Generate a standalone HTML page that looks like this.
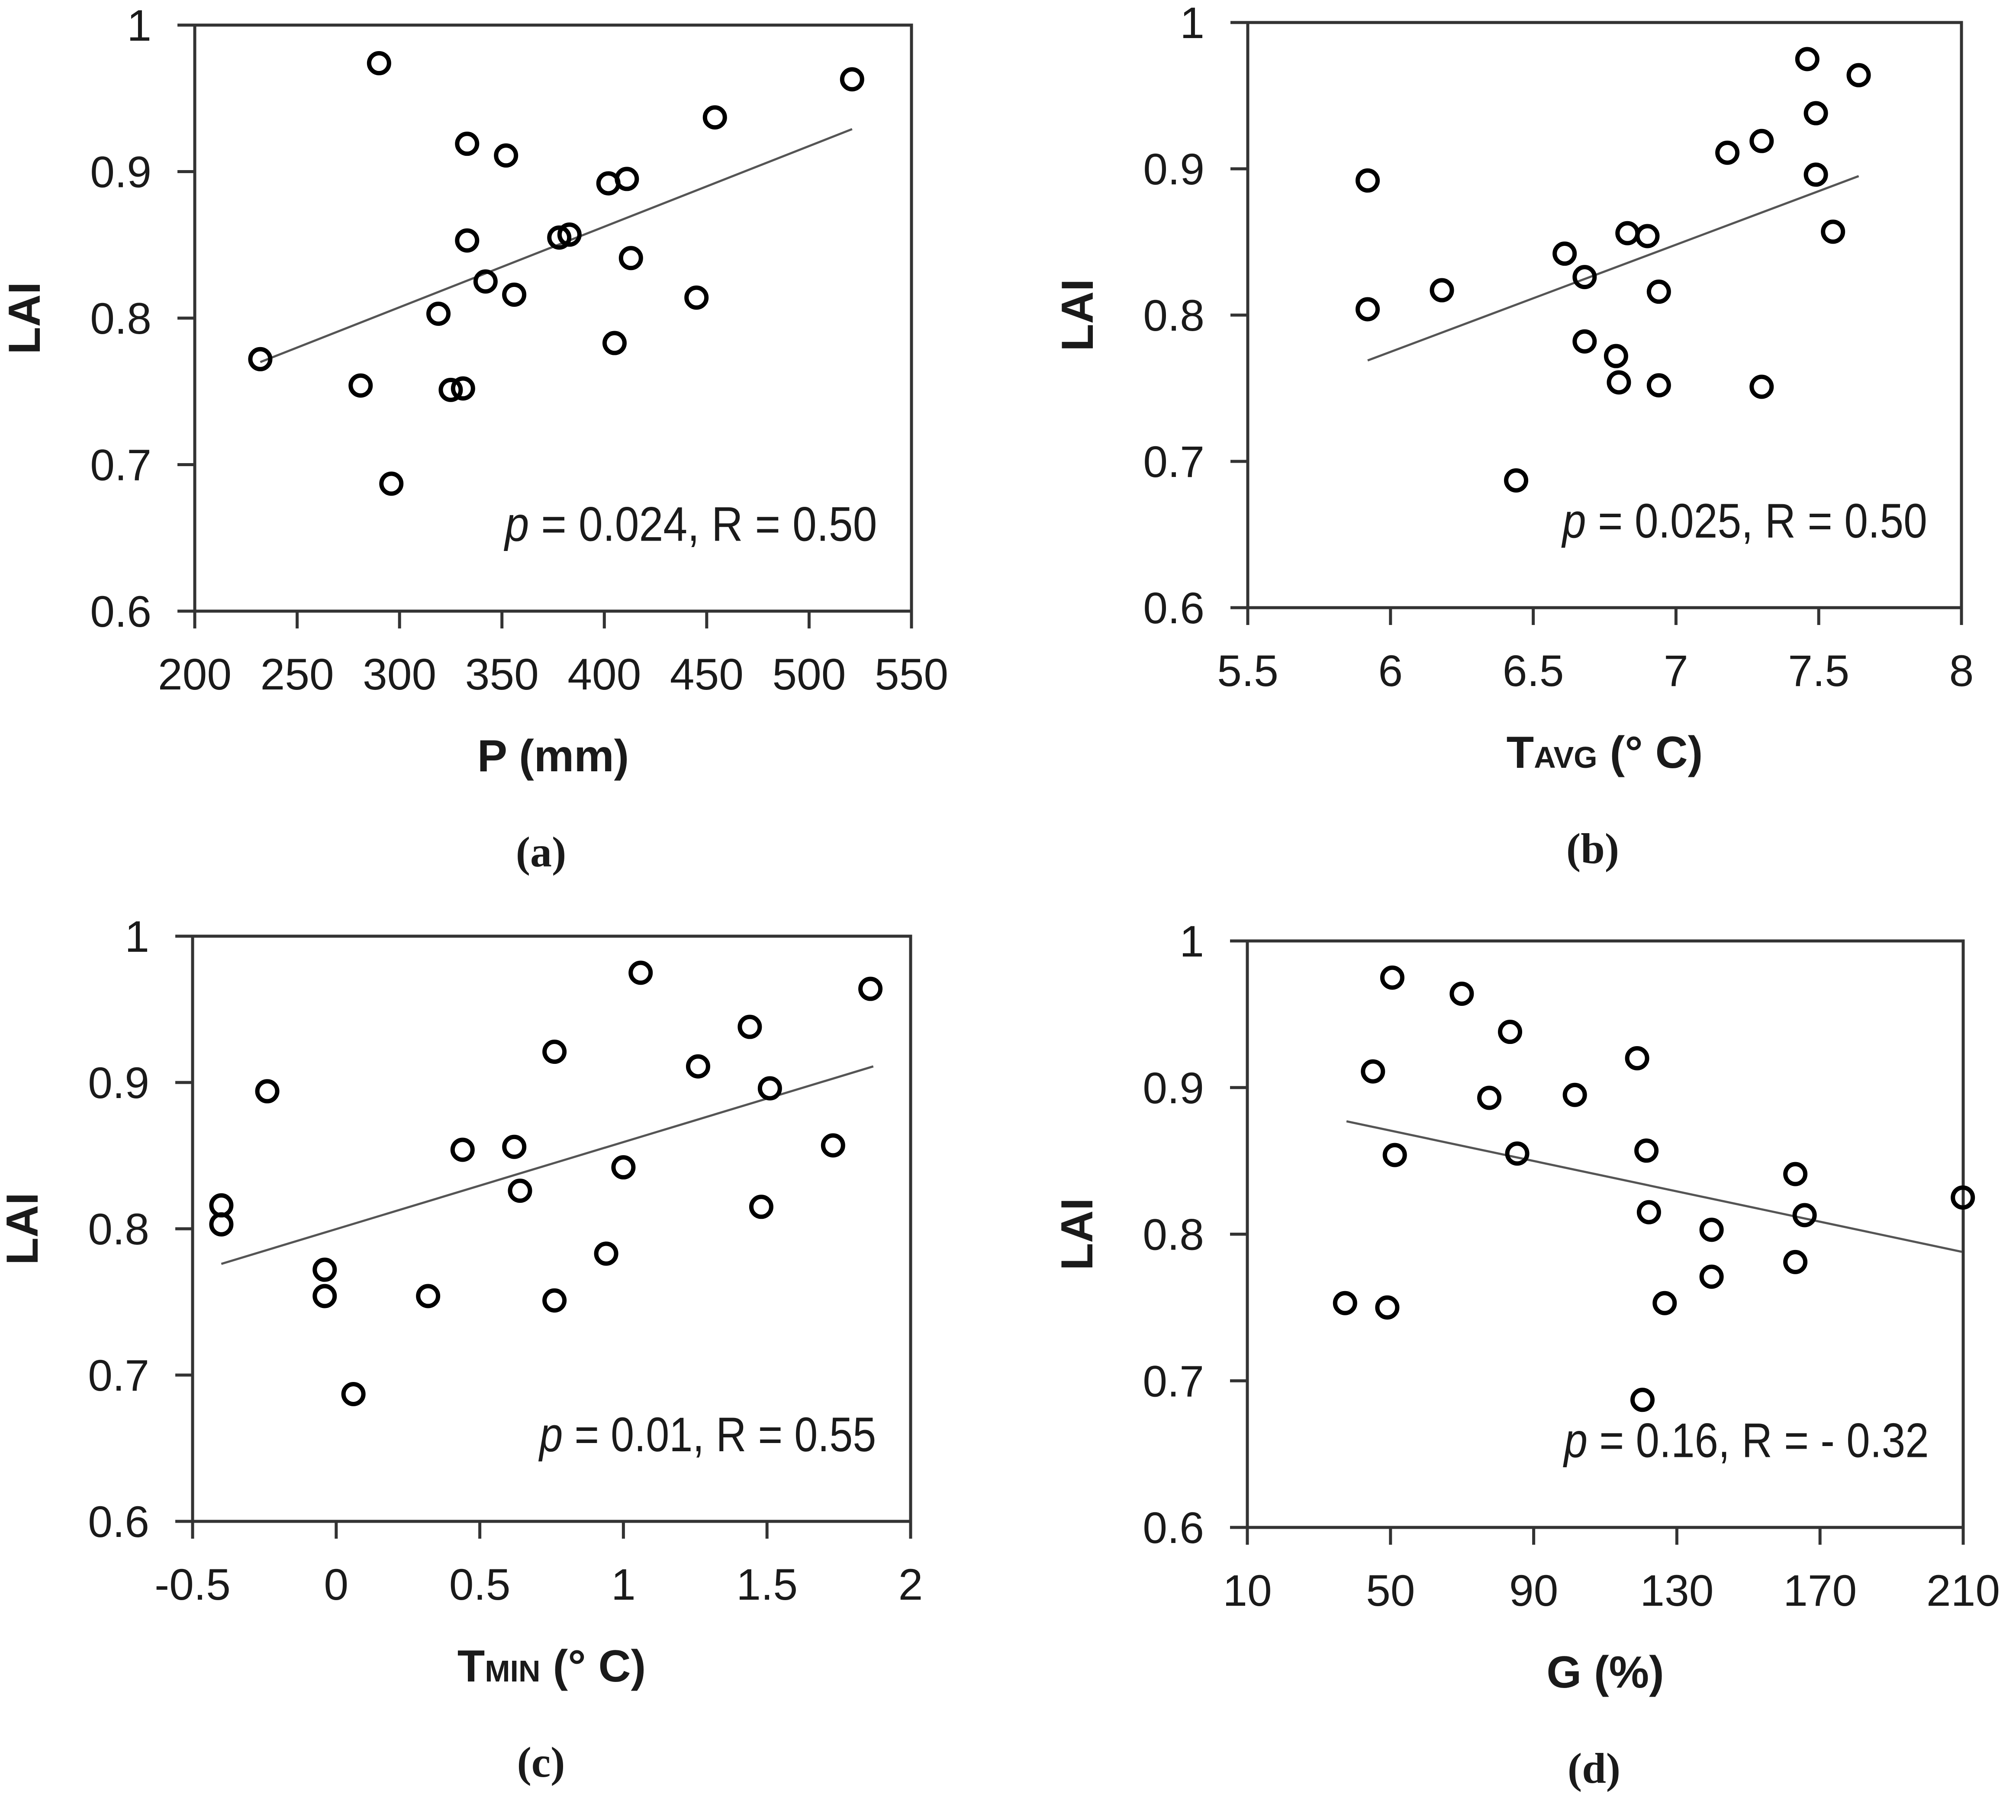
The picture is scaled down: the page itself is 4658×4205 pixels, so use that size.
<!DOCTYPE html>
<html><head><meta charset="utf-8">
<style>
html,body{margin:0;padding:0;background:#fff;}
svg{display:block;}
text{font-family:"Liberation Sans",sans-serif;fill:#1a1a1a;}
</style></head>
<body>
<svg id="fig" xmlns="http://www.w3.org/2000/svg" width="4658" height="4205" viewBox="0 0 4658 4205"></svg>
<script>
// ---- Panel (a): LAI vs P (mm)
const aX = [232,281,290,296,319,325,331,333,333,342,352,356,378,383,402,405,411,413,445,454,521];
const aY = [0.772,0.754,0.974,0.687,0.803,0.751,0.752,0.919,0.853,0.825,0.911,0.816,0.855,0.857,0.892,0.783,0.895,0.841,0.814,0.937,0.963];
const aLineX = [232,521];
const aLineY = [0.770,0.929];
const aTicks = ["200","250","300","350","400","450","500","550"];
const aTickVals = [200,250,300,350,400,450,500,550];
// ---- Panel (b): LAI vs TAVG
const bX = [7.46,7.64,7.49,7.30,7.18,5.92,7.49,7.55,6.83,6.90,6.61,6.68,6.18,6.94,5.92,6.68,6.79,6.80,6.94,7.30,6.44];
const bY = [0.975,0.964,0.938,0.919,0.911,0.892,0.896,0.857,0.856,0.854,0.842,0.826,0.817,0.816,0.804,0.782,0.772,0.754,0.752,0.751,0.687];
const bLineX = [5.92,7.64];
const bLineY = [0.769,0.895];
const bTicks = ["5.5","6","6.5","7","7.5","8"];
const bTickVals = [5.5,6,6.5,7,7.5,8];
// ---- Panel (c): LAI vs TMIN
const cX = [1.06,1.86,1.44,0.76,1.26,-0.24,1.51,0.44,0.62,1.73,1.00,0.64,-0.40,1.48,-0.40,0.94,-0.04,-0.04,0.32,0.76,0.06];
const cY = [0.975,0.964,0.938,0.921,0.911,0.894,0.896,0.854,0.856,0.857,0.842,0.826,0.816,0.815,0.803,0.783,0.772,0.754,0.754,0.751,0.687];
const cLineX = [-0.40,1.87];
const cLineY = [0.776,0.911];
const cTicks = ["-0.5","0","0.5","1","1.5","2"];
const cTickVals = [-0.5,0,0.5,1,1.5,2];
// ---- Panel (d): LAI vs G (%)
const dX = [50.5,69.9,83.4,118.9,45.1,77.6,101.5,51.2,85.4,121.5,163.1,209.9,122.2,165.7,139.7,163.1,139.7,37.3,49.1,126.6,120.4];
const dY = [0.975,0.964,0.938,0.920,0.911,0.893,0.895,0.854,0.855,0.857,0.841,0.825,0.815,0.813,0.803,0.781,0.771,0.753,0.750,0.753,0.687];
const dLineX = [37.7,209.6];
const dLineY = [0.877,0.788];
const dTicks = ["10","50","90","130","170","210"];
const dTickVals = [10,50,90,130,170,210];
// shared y axis
const yTicks = ["0.6","0.7","0.8","0.9","1"];
const yTickVals = [0.6,0.7,0.8,0.9,1.0];

const NS = "http://www.w3.org/2000/svg";
const svg = document.getElementById("fig");
function mk(tag, attrs, parent){
  const e = document.createElementNS(NS, tag);
  for (const k in attrs) e.setAttribute(k, attrs[k]);
  (parent||svg).appendChild(e);
  return e;
}

function panel(key, L, R, T, B, xmin, xmax, xs, ys, lx, ly, tLab, tVal, note, noteLen, titleParts, label, labelX){
  const g = mk("g", {});
  
  
  const sx = v => L + (v - xmin) / (xmax - xmin) * (R - L);
  const sy = v => B - (v - 0.6) / 0.4 * (B - T);
  const frame = mk("rect", {x:L, y:T, width:R-L, height:B-T, fill:"none", stroke:"#333", "stroke-width":7}, g);
  
  
  yTickVals.forEach((v,i) => {
    const t = mk("line", {x1:L-40, x2:L, y1:sy(v), y2:sy(v), stroke:"#333", "stroke-width":7}, g);
    
    
    const tx = mk("text", {x:L-100, y:sy(v)+36, "text-anchor":"end", "font-size":102}, g);
    tx.textContent = yTicks[i];
    
    
  });
  tVal.forEach((v,i) => {
    const t = mk("line", {x1:sx(v), x2:sx(v), y1:B, y2:B+40, stroke:"#333", "stroke-width":7}, g);
    
    
    const tx = mk("text", {x:sx(v), y:B+181, "text-anchor":"middle", "font-size":102}, g);
    tx.textContent = tLab[i];
    
    
  });
  const tl = mk("line", {x1:sx(lx[0]), y1:sy(ly[0]), x2:sx(lx[1]), y2:sy(ly[1]), stroke:"#555", "stroke-width":5}, g);
  
  
  xs.forEach((v,i) => {
    const c = mk("circle", {cx:sx(v), cy:sy(ys[i]), r:23, fill:"none", stroke:"#000", "stroke-width":10}, g);
    
    
  });
  const nt = mk("text", {x:L + 0.952*(R-L), y:sy(0.648), "text-anchor":"end", "font-size":112, textLength:noteLen, lengthAdjust:"spacingAndGlyphs"}, g);
  
  
  const it = mk("tspan", {"font-style":"italic"}, nt); it.textContent = "p";
  const rest = mk("tspan", {}, nt); rest.textContent = note;
  const yt = mk("text", {x:0, y:0, transform:`translate(${L-358},${(T+B)/2}) rotate(-90)`, "text-anchor":"middle", "font-size":104, "font-weight":"bold"}, g);
  yt.textContent = "LAI";
  
  
  const xt = mk("text", {x:(L+R)/2, y:B+370, "text-anchor":"middle", "font-size":104, "font-weight":"bold"}, g);
  
  
  titleParts.forEach(p => {
    const s = mk("tspan", p.sub ? {"font-size":70} : {}, xt);
    s.textContent = p.t;
  });
  const pl = mk("text", {x:labelX, y:B+590, "text-anchor":"middle", "font-size":100, "font-weight":"bold", style:'font-family:"Liberation Serif",serif'}, g);
  pl.textContent = label;
  
  
}

panel("a", 450, 2106, 58, 1412, 200, 550, aX, aY, aLineX, aLineY, aTicks, aTickVals,
  " = 0.024, R = 0.50", 860, [{t:"P (mm)"}], "(a)", 1250);
panel("b", 2883, 4532, 52, 1404, 5.5, 8, bX, bY, bLineX, bLineY, bTicks, bTickVals,
  " = 0.025, R = 0.50", 843, [{t:"T"},{t:"AVG",sub:true},{t:" (°  C)"}], "(b)", 3680);
panel("c", 445, 2104, 2163, 3515, -0.5, 2, cX, cY, cLineX, cLineY, cTicks, cTickVals,
  " = 0.01, R = 0.55", 778, [{t:"T"},{t:"MIN",sub:true},{t:" (°  C)"}], "(c)", 1250);
panel("d", 2882, 4536, 2174, 3529, 10, 210, dX, dY, dLineX, dLineY, dTicks, dTickVals,
  " = 0.16, R = - 0.32", 843, [{t:"G (%)"}], "(d)", 3683);
</script>
</body></html>
